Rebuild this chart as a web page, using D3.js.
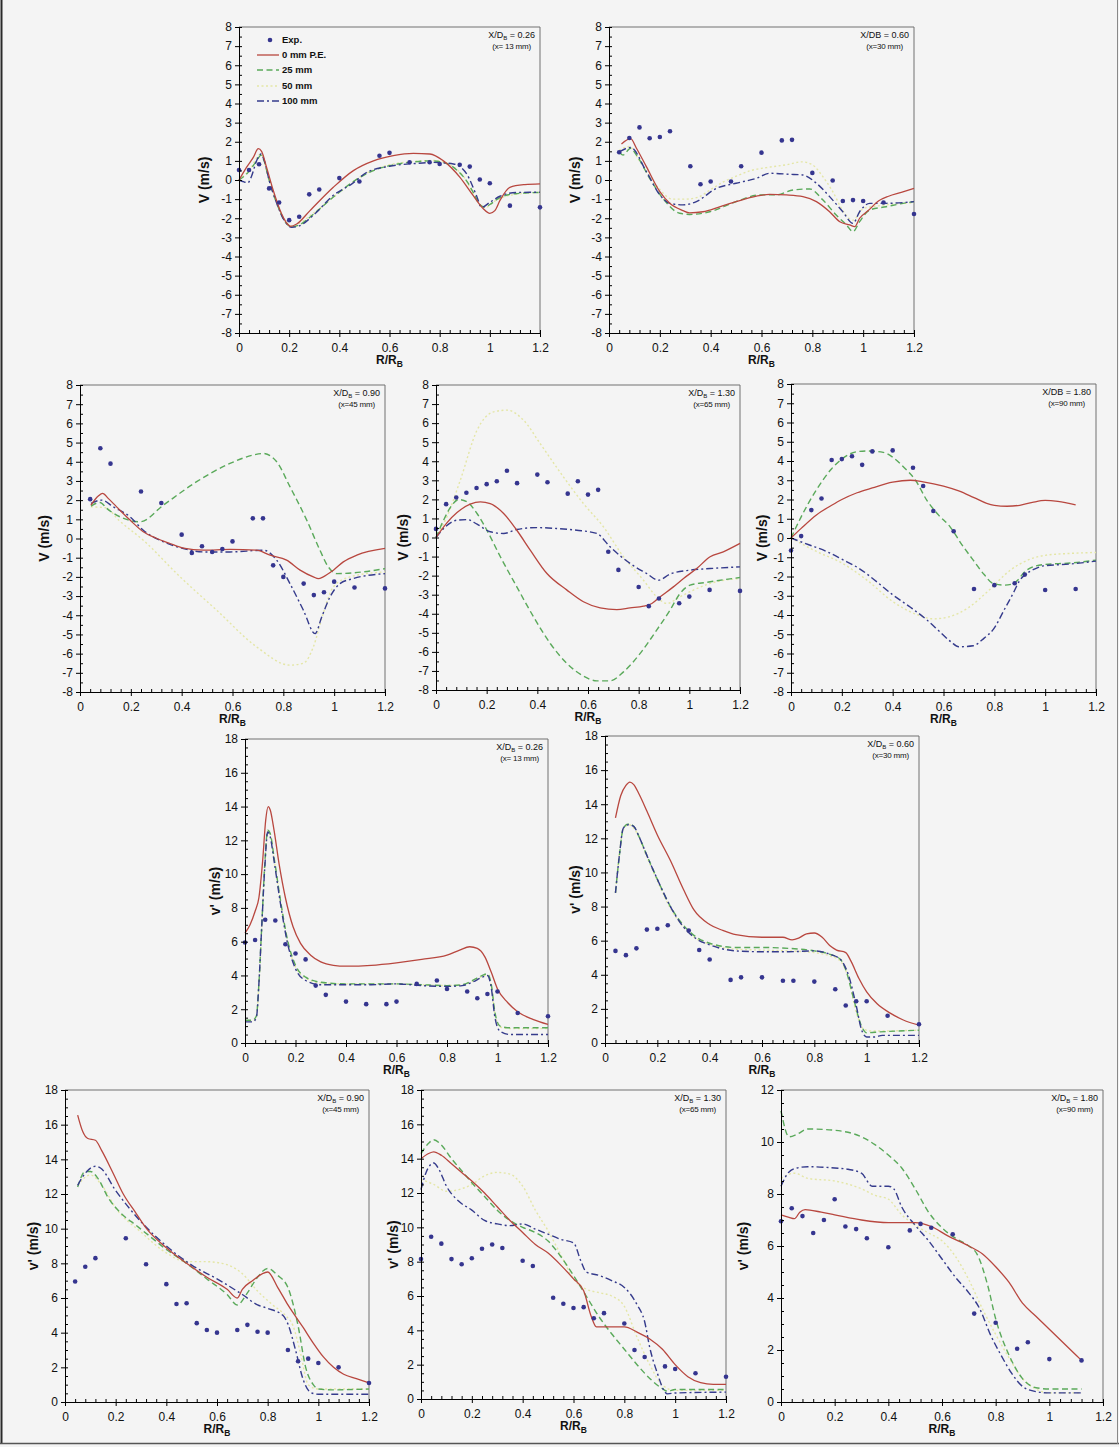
<!DOCTYPE html>
<html>
<head>
<meta charset="utf-8">
<script src="https://cdn.jsdelivr.net/npm/d3@7"></script>
<style>
  html, body { margin: 0; padding: 0; background: #f4f4f4; }
  svg { display: block; font-family: "Liberation Sans", Arial, sans-serif; }
</style>
</head>
<body>
<svg id="fig" width="1119" height="1447"></svg>
<script>
// ---------- tick labels ----------
const rTicks   = [0, 0.2, 0.4, 0.6, 0.8, 1, 1.2];
const vTicks   = [-8, -7, -6, -5, -4, -3, -2, -1, 0, 1, 2, 3, 4, 5, 6, 7, 8];
const vpTicks  = [0, 2, 4, 6, 8, 10, 12, 14, 16, 18];
const vpTicks12 = [0, 2, 4, 6, 8, 10, 12];

// ---------- legend entries ----------
const legendLabels = ["Exp.", "0 mm P.E.", "25 mm", "50 mm", "100 mm"];

// ================= V (mean radial velocity) =================
// X/D_B = 0.26
const exp_V026 = [[0,0.52],[0.04,0.52],[0.08,0.82],[0.12,-0.44],[0.16,-1.18],[0.2,-2.1],[0.24,-1.92],[0.28,-0.75],[0.32,-0.5],[0.4,0.1],[0.48,-0.08],[0.56,1.27],[0.6,1.42],[0.68,0.93],[0.76,0.93],[0.8,0.84],[0.88,0.8],[0.92,0.7],[0.96,0.03],[1.0,-0.17],[1.08,-1.34],[1.2,-1.43]];
const pe0_V026 = [[0,0],[0.03,0.66],[0.057,1.18],[0.077,1.64],[0.09,1.5],[0.11,0.66],[0.137,-0.56],[0.17,-1.78],[0.193,-2.3],[0.206,-2.42],[0.23,-2.3],[0.283,-1.6],[0.376,-0.38],[0.456,0.49],[0.536,1.0],[0.615,1.27],[0.695,1.39],[0.761,1.36],[0.815,1.0],[0.881,0.14],[0.934,-0.82],[0.974,-1.5],[1.0,-1.74],[1.02,-1.6],[1.04,-1.08],[1.08,-0.38],[1.14,-0.24],[1.2,-0.2]];
const pe25_V026 = [[0,0],[0.04,0.45],[0.07,1.0],[0.088,1.3],[0.1,1.0],[0.12,0.0],[0.15,-1.2],[0.18,-2.1],[0.21,-2.45],[0.24,-2.35],[0.3,-1.75],[0.38,-0.85],[0.46,-0.05],[0.52,0.4],[0.6,0.75],[0.68,0.92],[0.76,1.0],[0.82,0.9],[0.87,0.5],[0.91,-0.1],[0.94,-0.8],[0.96,-1.3],[0.98,-1.42],[1.0,-1.28],[1.04,-0.92],[1.1,-0.72],[1.2,-0.65]];
const pe50_V026 = [[0,0],[0.04,0.5],[0.088,1.35],[0.12,0.0],[0.16,-1.5],[0.21,-2.4],[0.3,-1.7],[0.4,-0.65],[0.5,0.3],[0.6,0.8],[0.7,0.97],[0.78,1.02],[0.84,0.8],[0.9,0.1],[0.95,-1.1],[0.98,-1.45],[1.02,-1.1],[1.1,-0.75],[1.2,-0.65]];
const pe100_V026 = [[0,0],[0.02,-0.1],[0.035,-0.15],[0.05,0.2],[0.07,1.0],[0.088,1.36],[0.1,1.05],[0.12,0.0],[0.15,-1.2],[0.18,-2.1],[0.21,-2.47],[0.24,-2.4],[0.3,-1.8],[0.376,-0.8],[0.45,-0.2],[0.51,0.4],[0.6,0.72],[0.7,0.86],[0.775,0.92],[0.855,0.84],[0.908,0.31],[0.947,-0.82],[0.967,-1.43],[1.0,-1.17],[1.04,-0.85],[1.107,-0.65],[1.2,-0.64]];

// X/D_B = 0.60
const exp_V060 = [[0.04,1.45],[0.08,2.2],[0.12,2.75],[0.16,2.18],[0.2,2.25],[0.24,2.55],[0.32,0.72],[0.36,-0.22],[0.4,-0.08],[0.48,-0.08],[0.52,0.72],[0.6,1.43],[0.68,2.07],[0.72,2.1],[0.8,0.37],[0.88,-0.03],[0.92,-1.1],[0.96,-1.05],[1.0,-1.1],[1.08,-1.18],[1.2,-1.78]];
const pe0_V060 = [[0.049,1.88],[0.085,2.16],[0.108,1.66],[0.147,0.7],[0.2,-0.61],[0.239,-1.22],[0.291,-1.6],[0.317,-1.72],[0.37,-1.66],[0.435,-1.4],[0.5,-1.13],[0.58,-0.84],[0.632,-0.75],[0.698,-0.78],[0.763,-0.87],[0.816,-1.13],[0.868,-1.66],[0.908,-2.18],[0.947,-2.35],[0.967,-2.44],[0.986,-2.0],[1.02,-1.6],[1.06,-1.1],[1.1,-0.85],[1.15,-0.65],[1.2,-0.44]];
const pe25_V060 = [[0.042,1.45],[0.055,1.3],[0.085,1.66],[0.108,1.3],[0.16,0.09],[0.212,-0.96],[0.278,-1.74],[0.317,-1.8],[0.396,-1.66],[0.5,-1.13],[0.593,-0.78],[0.658,-0.78],[0.724,-0.52],[0.79,-0.47],[0.842,-1.05],[0.894,-1.83],[0.934,-2.35],[0.96,-2.7],[0.986,-2.18],[1.026,-1.57],[1.09,-1.4],[1.157,-1.22],[1.2,-1.13]];
const pe50_V060 = [[0.04,1.55],[0.08,1.75],[0.12,1.0],[0.16,0.2],[0.2,-0.5],[0.25,-1.0],[0.3,-1.0],[0.35,-0.9],[0.4,-0.5],[0.45,-0.1],[0.5,0.2],[0.56,0.5],[0.62,0.65],[0.7,0.8],[0.76,0.95],[0.8,0.8],[0.84,0.2],[0.88,-0.6],[0.92,-1.6],[0.96,-2.1],[1.0,-1.5],[1.06,-1.35],[1.2,-1.2]];
const pe100_V060 = [[0.042,1.48],[0.085,1.7],[0.147,0.44],[0.2,-0.78],[0.239,-1.22],[0.291,-1.3],[0.344,-1.13],[0.422,-0.44],[0.5,-0.17],[0.58,0.09],[0.632,0.35],[0.71,0.3],[0.763,0.26],[0.816,-0.17],[0.868,-0.87],[0.92,-1.66],[0.96,-2.27],[0.986,-1.66],[1.026,-1.22],[1.09,-1.22],[1.2,-1.13]];

// X/D_B = 0.90
const exp_V090 = [[0.04,2.05],[0.08,4.7],[0.12,3.9],[0.24,2.45],[0.32,1.85],[0.4,0.2],[0.44,-0.75],[0.48,-0.4],[0.52,-0.7],[0.56,-0.55],[0.6,-0.15],[0.68,1.05],[0.72,1.05],[0.76,-1.4],[0.8,-2.0],[0.88,-2.35],[0.92,-2.95],[0.96,-2.8],[1.0,-2.25],[1.08,-2.55],[1.2,-2.6]];
const pe0_V090 = [[0.043,1.74],[0.072,2.21],[0.089,2.35],[0.111,2.09],[0.144,1.65],[0.197,0.96],[0.249,0.35],[0.302,0.0],[0.354,-0.26],[0.407,-0.5],[0.485,-0.61],[0.59,-0.57],[0.695,-0.61],[0.748,-0.87],[0.813,-1.13],[0.866,-1.65],[0.918,-2.0],[0.938,-2.09],[0.957,-2.0],[0.997,-1.65],[1.036,-1.22],[1.089,-0.87],[1.2,-0.52]];
const pe25_V090 = [[0.043,1.69],[0.079,1.88],[0.105,1.57],[0.157,1.13],[0.236,0.87],[0.328,1.74],[0.459,2.96],[0.59,3.91],[0.682,4.35],[0.721,4.43],[0.774,4.0],[0.826,2.7],[0.892,0.96],[0.944,-0.61],[0.977,-1.48],[1.01,-1.83],[1.115,-1.74],[1.2,-1.57]];
const pe50_V090 = [[0.043,1.65],[0.1,1.6],[0.157,0.9],[0.249,-0.09],[0.394,-2.0],[0.538,-3.74],[0.695,-5.65],[0.826,-6.6],[0.879,-6.5],[0.918,-5.65],[0.957,-3.9],[0.997,-2.52],[1.062,-2.0],[1.2,-1.74]];
const pe100_V090 = [[0.043,1.83],[0.085,2.0],[0.131,1.65],[0.197,1.13],[0.249,0.43],[0.328,-0.17],[0.407,-0.52],[0.485,-0.7],[0.59,-0.7],[0.721,-0.61],[0.774,-1.13],[0.826,-2.35],[0.879,-3.74],[0.925,-4.96],[0.951,-4.09],[0.984,-3.04],[1.023,-2.35],[1.075,-2.09],[1.2,-1.83]];

// X/D_B = 1.30
const exp_V130 = [[0,0.45],[0.04,1.75],[0.08,2.1],[0.12,2.35],[0.16,2.6],[0.2,2.8],[0.24,2.95],[0.28,3.5],[0.32,2.85],[0.4,3.3],[0.44,2.9],[0.52,2.3],[0.56,2.95],[0.6,2.25],[0.64,2.5],[0.68,-0.75],[0.72,-1.7],[0.8,-2.6],[0.84,-3.6],[0.88,-3.2],[0.96,-3.45],[1.0,-3.1],[1.08,-2.75],[1.2,-2.8]];
const pe0_V130 = [[0,0],[0.043,0.77],[0.083,1.31],[0.135,1.75],[0.175,1.87],[0.214,1.78],[0.267,1.26],[0.319,0.38],[0.372,-0.66],[0.438,-1.89],[0.517,-2.76],[0.582,-3.37],[0.648,-3.69],[0.714,-3.78],[0.766,-3.69],[0.819,-3.6],[0.852,-3.46],[0.885,-3.11],[0.937,-2.59],[0.977,-2.15],[1.029,-1.63],[1.082,-1.01],[1.134,-0.75],[1.2,-0.31]];
const pe25_V130 = [[0,0],[0.03,0.91],[0.063,1.7],[0.089,1.99],[0.122,1.87],[0.162,1.26],[0.201,0.38],[0.254,-1.01],[0.319,-2.59],[0.385,-4.16],[0.451,-5.56],[0.517,-6.61],[0.582,-7.27],[0.635,-7.52],[0.687,-7.52],[0.74,-7.05],[0.806,-6.08],[0.871,-4.86],[0.924,-3.81],[0.963,-2.94],[1.003,-2.5],[1.069,-2.35],[1.2,-2.1]];
const pe50_V130 = [[0,0],[0.043,1.08],[0.096,3.01],[0.162,5.63],[0.227,6.59],[0.28,6.68],[0.346,6.15],[0.411,4.93],[0.503,3.18],[0.582,1.78],[0.661,0.56],[0.74,-1.01],[0.819,-2.24],[0.871,-3.11],[0.911,-3.46],[0.963,-3.11],[1.016,-2.76],[1.082,-2.41],[1.2,-2.15]];
const pe100_V130 = [[0,0],[0.037,0.56],[0.083,0.91],[0.122,0.94],[0.162,0.7],[0.214,0.3],[0.267,0.21],[0.319,0.42],[0.398,0.52],[0.477,0.47],[0.556,0.38],[0.635,0.21],[0.687,-0.49],[0.766,-1.36],[0.832,-1.89],[0.878,-2.24],[0.924,-1.92],[1.003,-1.71],[1.082,-1.63],[1.2,-1.54]];

// X/D_B = 1.80
const exp_V180 = [[0,-0.65],[0.04,0.1],[0.08,1.45],[0.12,2.05],[0.16,4.05],[0.2,4.1],[0.24,4.25],[0.28,3.8],[0.32,4.5],[0.4,4.55],[0.48,3.65],[0.52,2.7],[0.56,1.4],[0.64,0.35],[0.72,-2.65],[0.8,-2.45],[0.88,-2.35],[0.92,-1.9],[1.0,-2.7],[1.12,-2.65]];
const pe0_V180 = [[0,0],[0.04,0.5],[0.1,1.2],[0.16,1.7],[0.2,2.0],[0.26,2.35],[0.32,2.6],[0.4,2.9],[0.47,3.0],[0.52,2.92],[0.6,2.7],[0.66,2.45],[0.72,2.1],[0.77,1.8],[0.8,1.7],[0.85,1.65],[0.9,1.7],[0.95,1.85],[1.0,1.95],[1.05,1.9],[1.12,1.72]];
const pe25_V180 = [[0,0],[0.04,1.1],[0.1,2.5],[0.16,3.6],[0.2,4.1],[0.258,4.48],[0.3,4.52],[0.363,4.45],[0.4,4.2],[0.442,3.7],[0.49,3.0],[0.534,1.97],[0.58,1.2],[0.626,0.58],[0.67,-0.3],[0.717,-1.15],[0.76,-1.9],[0.796,-2.37],[0.84,-2.45],[0.875,-2.37],[0.927,-1.67],[0.993,-1.38],[1.1,-1.3],[1.2,-1.15]];
const pe50_V180 = [[0,0],[0.1,-0.7],[0.2,-1.3],[0.3,-2.2],[0.4,-3.3],[0.5,-4.0],[0.56,-4.2],[0.62,-4.1],[0.7,-3.6],[0.78,-2.7],[0.86,-1.7],[0.94,-1.1],[1.0,-0.9],[1.1,-0.8],[1.2,-0.75]];
const pe100_V180 = [[0,0],[0.07,-0.35],[0.14,-0.7],[0.2,-1.1],[0.27,-1.6],[0.34,-2.3],[0.4,-2.95],[0.47,-3.6],[0.534,-4.25],[0.58,-4.8],[0.63,-5.4],[0.66,-5.65],[0.717,-5.6],[0.76,-5.2],[0.796,-4.75],[0.84,-3.7],[0.875,-2.85],[0.9,-2.2],[0.927,-1.85],[0.96,-1.6],[0.993,-1.45],[1.1,-1.35],[1.2,-1.2]];

// ================= v' (radial velocity fluctuation) =================
// X/D_B = 0.26
const exp_Vp026 = [[0,5.95],[0.04,6.1],[0.08,7.3],[0.12,7.25],[0.16,5.85],[0.2,5.3],[0.24,4.95],[0.28,3.4],[0.32,2.85],[0.4,2.45],[0.48,2.3],[0.56,2.3],[0.6,2.45],[0.68,3.5],[0.76,3.7],[0.8,3.2],[0.88,3.05],[0.92,2.65],[0.96,2.9],[1.0,3.05],[1.08,1.78],[1.2,1.58]];
const pe0_Vp026 = [[0,6.5],[0.02,7.0],[0.04,7.8],[0.055,8.6],[0.07,10.8],[0.082,13.2],[0.092,14.0],[0.1,13.8],[0.115,12.6],[0.135,10.6],[0.16,8.6],[0.19,6.9],[0.22,5.9],[0.26,5.2],[0.3,4.8],[0.35,4.6],[0.4,4.55],[0.5,4.6],[0.6,4.75],[0.7,4.95],[0.8,5.2],[0.85,5.5],[0.89,5.7],[0.92,5.6],[0.95,5.1],[0.975,4.2],[1.0,3.2],[1.04,2.4],[1.08,1.85],[1.14,1.4],[1.2,1.1]];
const pe25_Vp026 = [[0,1.35],[0.03,1.35],[0.045,1.6],[0.055,3.5],[0.065,6.5],[0.078,10.5],[0.09,12.6],[0.1,12.4],[0.115,11.0],[0.14,8.5],[0.17,6.0],[0.2,4.6],[0.24,3.9],[0.3,3.6],[0.4,3.5],[0.5,3.5],[0.6,3.5],[0.7,3.45],[0.8,3.4],[0.86,3.45],[0.9,3.7],[0.94,4.0],[0.96,4.1],[0.975,3.5],[0.99,1.8],[1.01,1.0],[1.05,0.9],[1.2,0.9]];
const pe50_Vp026 = [[0,1.3],[0.03,1.3],[0.045,1.55],[0.055,3.4],[0.065,6.4],[0.078,10.4],[0.09,12.55],[0.1,12.3],[0.115,10.9],[0.14,8.4],[0.17,5.9],[0.2,4.5],[0.24,3.85],[0.3,3.55],[0.4,3.5],[0.5,3.5],[0.6,3.5],[0.7,3.45],[0.8,3.4],[0.86,3.45],[0.9,3.65],[0.94,3.95],[0.96,4.05],[0.975,3.4],[0.99,1.7],[1.01,0.95],[1.05,0.85],[1.2,0.85]];
const pe100_Vp026 = [[0,1.25],[0.03,1.25],[0.045,1.5],[0.055,3.5],[0.065,6.5],[0.078,10.3],[0.09,12.5],[0.1,12.2],[0.115,10.8],[0.14,8.3],[0.17,5.8],[0.2,4.4],[0.24,3.7],[0.3,3.45],[0.4,3.45],[0.5,3.45],[0.6,3.5],[0.7,3.4],[0.8,3.35],[0.86,3.4],[0.9,3.6],[0.94,3.9],[0.96,4.0],[0.975,3.3],[0.99,1.5],[1.01,0.7],[1.05,0.5],[1.2,0.5]];

// X/D_B = 0.60
const exp_Vp060 = [[0.04,5.4],[0.08,5.15],[0.12,5.55],[0.16,6.65],[0.2,6.7],[0.24,6.9],[0.32,6.6],[0.36,5.45],[0.4,4.9],[0.48,3.7],[0.52,3.85],[0.6,3.85],[0.68,3.65],[0.72,3.65],[0.8,3.6],[0.88,3.15],[0.92,2.2],[0.96,2.45],[1.0,2.45],[1.08,1.6],[1.2,1.1]];
const pe0_Vp060 = [[0.04,13.2],[0.06,14.5],[0.08,15.1],[0.095,15.3],[0.11,15.15],[0.13,14.6],[0.16,13.6],[0.2,12.2],[0.25,10.7],[0.3,9.0],[0.34,7.8],[0.4,6.95],[0.45,6.6],[0.5,6.35],[0.6,6.2],[0.68,6.2],[0.715,6.05],[0.74,6.15],[0.77,6.4],[0.8,6.45],[0.83,6.2],[0.86,5.7],[0.885,5.45],[0.92,5.3],[0.94,4.8],[0.97,3.8],[1.0,3.0],[1.04,2.3],[1.09,1.75],[1.14,1.35],[1.2,1.05]];
const pe25_Vp060 = [[0.04,8.8],[0.055,11.0],[0.07,12.6],[0.09,12.85],[0.11,12.7],[0.13,12.1],[0.16,11.0],[0.2,9.6],[0.25,8.0],[0.3,6.9],[0.35,6.2],[0.4,5.85],[0.5,5.6],[0.6,5.6],[0.7,5.55],[0.8,5.4],[0.86,5.2],[0.9,4.9],[0.92,4.3],[0.95,2.6],[0.98,1.0],[1.0,0.6],[1.05,0.65],[1.2,0.75]];
const pe50_Vp060 = [[0.04,8.8],[0.07,12.5],[0.09,12.8],[0.11,12.6],[0.16,10.9],[0.2,9.5],[0.25,7.9],[0.3,6.8],[0.35,6.1],[0.4,5.8],[0.5,5.5],[0.6,5.45],[0.7,5.4],[0.8,5.3],[0.86,5.1],[0.9,4.8],[0.93,3.8],[0.96,1.8],[0.99,0.8],[1.02,0.7],[1.2,0.75]];
const pe100_Vp060 = [[0.04,8.8],[0.055,11.0],[0.07,12.6],[0.09,12.8],[0.11,12.7],[0.13,12.1],[0.16,11.0],[0.2,9.6],[0.25,8.0],[0.3,6.8],[0.35,6.1],[0.4,5.75],[0.5,5.4],[0.6,5.35],[0.7,5.35],[0.8,5.4],[0.86,5.2],[0.9,4.9],[0.93,4.0],[0.96,2.2],[0.98,0.8],[1.0,0.35],[1.03,0.35],[1.06,0.45],[1.2,0.45]];

// X/D_B = 0.90
const exp_Vp090 = [[0.04,6.95],[0.08,7.8],[0.12,8.3],[0.24,9.45],[0.32,7.95],[0.4,6.8],[0.44,5.65],[0.48,5.7],[0.52,4.55],[0.56,4.15],[0.6,4.0],[0.68,4.15],[0.72,4.45],[0.76,4.05],[0.8,4.0],[0.88,3.0],[0.92,2.35],[0.96,2.5],[1.0,2.25],[1.08,2.0],[1.2,1.1]];
const pe0_Vp090 = [[0.05,16.55],[0.07,15.6],[0.09,15.2],[0.12,15.1],[0.145,14.5],[0.19,13.2],[0.23,12.0],[0.28,10.9],[0.322,10.0],[0.4,8.9],[0.48,8.0],[0.56,7.2],[0.64,6.5],[0.68,6.0],[0.7,6.5],[0.74,7.0],[0.8,7.5],[0.84,6.6],[0.88,5.6],[0.94,4.3],[0.98,3.4],[1.02,2.6],[1.06,2.0],[1.1,1.6],[1.15,1.35],[1.2,1.1]];
const pe25_Vp090 = [[0.05,12.4],[0.08,13.3],[0.1,13.3],[0.13,12.9],[0.17,11.8],[0.22,10.9],[0.28,10.2],[0.34,9.5],[0.4,8.8],[0.48,8.0],[0.56,7.1],[0.64,6.2],[0.68,5.6],[0.72,6.3],[0.76,7.2],[0.8,7.7],[0.84,7.3],[0.88,6.6],[0.92,4.4],[0.95,2.0],[0.98,1.0],[1.0,0.75],[1.05,0.7],[1.2,0.75]];
const pe50_Vp090 = [[0.05,12.5],[0.1,13.1],[0.15,12.4],[0.2,11.2],[0.3,9.8],[0.4,8.6],[0.48,8.1],[0.55,8.1],[0.62,8.0],[0.7,7.4],[0.76,6.4],[0.82,5.6],[0.87,5.0],[0.9,4.4],[0.93,2.8],[0.96,1.0],[1.0,0.75],[1.2,0.75]];
const pe100_Vp090 = [[0.05,12.5],[0.08,13.2],[0.12,13.6],[0.14,13.5],[0.2,12.2],[0.3,10.4],[0.4,9.0],[0.5,7.9],[0.6,7.1],[0.7,6.2],[0.76,5.6],[0.8,5.4],[0.86,5.0],[0.88,4.5],[0.91,3.0],[0.94,1.3],[0.97,0.55],[1.0,0.45],[1.2,0.45]];

// X/D_B = 1.30
const exp_Vp130 = [[0,8.15],[0.04,9.45],[0.08,9.05],[0.12,8.15],[0.16,7.85],[0.2,8.2],[0.24,8.75],[0.28,9.0],[0.32,8.8],[0.4,8.05],[0.44,7.75],[0.52,5.9],[0.56,5.55],[0.6,5.3],[0.64,5.35],[0.68,4.7],[0.72,5.0],[0.8,4.4],[0.84,2.85],[0.88,2.45],[0.96,1.9],[1.0,1.75],[1.08,1.5],[1.2,1.3]];
const pe0_Vp130 = [[0,14.0],[0.03,14.3],[0.05,14.4],[0.08,14.2],[0.12,13.7],[0.16,13.2],[0.2,12.7],[0.25,12.0],[0.3,11.2],[0.35,10.4],[0.4,9.7],[0.45,9.0],[0.5,8.5],[0.55,7.8],[0.6,7.0],[0.64,6.3],[0.67,4.8],[0.69,4.2],[0.75,4.2],[0.8,4.2],[0.85,3.9],[0.9,3.5],[0.95,2.9],[1.0,2.0],[1.05,1.3],[1.1,0.95],[1.15,0.85],[1.2,0.85]];
const pe25_Vp130 = [[0,14.3],[0.03,14.9],[0.05,15.1],[0.08,14.8],[0.12,14.0],[0.16,13.3],[0.2,12.6],[0.25,11.8],[0.3,11.0],[0.35,10.4],[0.4,10.0],[0.45,9.7],[0.5,9.2],[0.55,8.3],[0.6,7.2],[0.65,6.0],[0.7,4.8],[0.75,3.8],[0.8,2.9],[0.85,2.0],[0.9,1.2],[0.95,0.6],[0.97,0.45],[1.0,0.55],[1.2,0.55]];
const pe50_Vp130 = [[0,12.8],[0.05,12.5],[0.1,12.1],[0.15,12.2],[0.2,12.5],[0.25,13.0],[0.3,13.2],[0.35,13.1],[0.4,12.4],[0.45,11.0],[0.5,9.8],[0.55,8.4],[0.6,7.0],[0.65,6.4],[0.7,6.2],[0.75,6.0],[0.8,5.4],[0.85,3.6],[0.9,2.0],[0.95,0.8],[1.0,0.5],[1.2,0.5]];
const pe100_Vp130 = [[0,12.2],[0.02,13.2],[0.05,13.75],[0.07,13.4],[0.1,12.4],[0.15,11.5],[0.2,11.0],[0.25,10.4],[0.3,10.2],[0.35,10.1],[0.4,10.2],[0.45,9.9],[0.5,9.6],[0.55,9.3],[0.6,9.1],[0.63,8.0],[0.65,7.4],[0.7,7.2],[0.75,6.9],[0.8,6.5],[0.85,5.5],[0.88,4.5],[0.9,3.0],[0.93,1.5],[0.96,0.4],[0.97,0.3],[1.0,0.35],[1.2,0.4]];

// X/D_B = 1.80
const exp_Vp180 = [[0,6.95],[0.04,7.45],[0.08,7.15],[0.12,6.5],[0.16,7.0],[0.2,7.8],[0.24,6.75],[0.28,6.65],[0.32,6.3],[0.4,5.95],[0.48,6.6],[0.52,6.85],[0.56,6.7],[0.64,6.45],[0.72,3.4],[0.8,3.05],[0.88,2.05],[0.92,2.3],[1.0,1.65],[1.12,1.6]];
const pe0_Vp180 = [[0,7.2],[0.03,7.1],[0.05,7.05],[0.07,7.3],[0.09,7.4],[0.15,7.3],[0.2,7.2],[0.3,7.0],[0.4,6.9],[0.5,6.9],[0.56,6.75],[0.62,6.4],[0.7,6.0],[0.75,5.7],[0.8,5.2],[0.85,4.6],[0.9,3.8],[0.95,3.3],[1.0,2.8],[1.05,2.3],[1.1,1.8],[1.12,1.6]];
const pe25_Vp180 = [[0,11.2],[0.03,10.2],[0.06,10.3],[0.1,10.5],[0.2,10.45],[0.3,10.2],[0.35,9.9],[0.4,9.5],[0.45,9.0],[0.5,8.2],[0.55,7.3],[0.6,6.7],[0.65,6.3],[0.7,6.0],[0.73,5.7],[0.77,4.5],[0.8,3.2],[0.85,1.8],[0.9,0.9],[0.95,0.55],[1.0,0.5],[1.12,0.5]];
const pe50_Vp180 = [[0,8.6],[0.05,8.8],[0.1,8.6],[0.2,8.5],[0.3,8.2],[0.35,7.95],[0.4,7.8],[0.45,7.2],[0.5,6.8],[0.55,6.5],[0.6,6.2],[0.65,5.6],[0.7,4.7],[0.75,3.6],[0.8,2.6],[0.85,1.7],[0.9,0.9],[0.95,0.5],[1.0,0.35],[1.12,0.35]];
const pe100_Vp180 = [[0,8.3],[0.03,8.85],[0.06,9.0],[0.1,9.05],[0.2,9.0],[0.25,8.95],[0.3,8.8],[0.34,8.3],[0.4,8.3],[0.42,8.2],[0.45,7.5],[0.5,6.8],[0.55,6.2],[0.6,5.5],[0.65,4.8],[0.7,4.2],[0.74,3.6],[0.78,2.6],[0.82,1.8],[0.86,1.1],[0.9,0.6],[0.95,0.4],[1.0,0.35],[1.12,0.35]];

// ---------- panel layout ----------
const panels = [
  { box:[239,27,540,333],  yDomain:[-8,8], yTicks:vTicks, yMinor:0.5, ytitle:"V (m/s)",  yOff:35, station:"0.26", subB:true,  loc:"(x= 13 mm)", legend:true,
    exp:exp_V026, pe0:pe0_V026, pe25:pe25_V026, pe50:pe50_V026, pe100:pe100_V026 },
  { box:[609,27,914,333],  yDomain:[-8,8], yTicks:vTicks, yMinor:0.5, ytitle:"V (m/s)",  yOff:34, station:"0.60", subB:false, loc:"(x=30 mm)",
    exp:exp_V060, pe0:pe0_V060, pe25:pe25_V060, pe50:pe50_V060, pe100:pe100_V060 },
  { box:[80,385,385,692],  yDomain:[-8,8], yTicks:vTicks, yMinor:0.5, ytitle:"V (m/s)",  yOff:36, station:"0.90", subB:true,  loc:"(x=45 mm)",
    exp:exp_V090, pe0:pe0_V090, pe25:pe25_V090, pe50:pe50_V090, pe100:pe100_V090 },
  { box:[436,385,740,690], yDomain:[-8,8], yTicks:vTicks, yMinor:0.5, ytitle:"V (m/s)",  yOff:33, station:"1.30", subB:true,  loc:"(x=65 mm)",
    exp:exp_V130, pe0:pe0_V130, pe25:pe25_V130, pe50:pe50_V130, pe100:pe100_V130 },
  { box:[791,384,1096,692],yDomain:[-8,8], yTicks:vTicks, yMinor:0.5, ytitle:"V (m/s)",  yOff:29, station:"1.80", subB:false, loc:"(x=90 mm)",
    exp:exp_V180, pe0:pe0_V180, pe25:pe25_V180, pe50:pe50_V180, pe100:pe100_V180 },
  { box:[245,739,548,1043],yDomain:[0,18], yTicks:vpTicks, yMinor:0.5, ytitle:"v' (m/s)", yOff:30, station:"0.26", subB:true,  loc:"(x= 13 mm)",
    exp:exp_Vp026, pe0:pe0_Vp026, pe25:pe25_Vp026, pe50:pe50_Vp026, pe100:pe100_Vp026 },
  { box:[605,736,919,1043],yDomain:[0,18], yTicks:vpTicks, yMinor:0.5, ytitle:"v' (m/s)", yOff:30, station:"0.60", subB:true,  loc:"(x=30 mm)",
    exp:exp_Vp060, pe0:pe0_Vp060, pe25:pe25_Vp060, pe50:pe50_Vp060, pe100:pe100_Vp060 },
  { box:[65,1090,369,1402],yDomain:[0,18], yTicks:vpTicks, yMinor:0.5, ytitle:"v' (m/s)", yOff:32, station:"0.90", subB:true,  loc:"(x=45 mm)",
    exp:exp_Vp090, pe0:pe0_Vp090, pe25:pe25_Vp090, pe50:pe50_Vp090, pe100:pe100_Vp090 },
  { box:[421,1090,726,1399],yDomain:[0,18], yTicks:vpTicks, yMinor:0.5, ytitle:"v' (m/s)", yOff:28, station:"1.30", subB:true,  loc:"(x=65 mm)",
    exp:exp_Vp130, pe0:pe0_Vp130, pe25:pe25_Vp130, pe50:pe50_Vp130, pe100:pe100_Vp130 },
  { box:[781,1090,1103,1402],yDomain:[0,12], yTicks:vpTicks12, yMinor:0.5, ytitle:"v' (m/s)", yOff:38, station:"1.80", subB:true,  loc:"(x=90 mm)",
    exp:exp_Vp180, pe0:pe0_Vp180, pe25:pe25_Vp180, pe50:pe50_Vp180, pe100:pe100_Vp180 }
];

// ---------- line styles ----------
const seriesStyle = {
  pe50:  { stroke:"#e4e6a6", width:1.4, dash:"2,2.5" },
  pe25:  { stroke:"#5aa95a", width:1.4, dash:"6,3.5" },
  pe100: { stroke:"#353b8c", width:1.4, dash:"7,3,2,3" },
  pe0:   { stroke:"#b8473f", width:1.3, dash:null }
};
const drawOrder = ["pe50", "pe25", "pe100", "pe0"];
const dotColor = "#35358f";
const FONT = '"Liberation Sans", Arial, sans-serif';

const svg = d3.select("#fig");
svg.append("rect").attr("width", 1119).attr("height", 1447).attr("fill", "#f4f4f4");

const fmt = d => String(+d.toFixed(2));

function drawPanel(p) {
  const [x0, y0, x1, y1] = p.box;
  const x = d3.scaleLinear().domain([0, 1.2]).range([x0, x1]);
  const y = d3.scaleLinear().domain(p.yDomain).range([y1, y0]);
  const g = svg.append("g");

  // plot frame (top and right edges)
  g.append("path")
    .attr("d", `M${x0},${y0}H${x1}V${y1}`)
    .attr("fill", "none").attr("stroke", "#707070").attr("stroke-width", 1);

  // model curves
  const line = d3.line().x(d => x(d[0])).y(d => y(d[1])).curve(d3.curveMonotoneX);
  drawOrder.forEach(k => {
    const s = seriesStyle[k];
    g.append("path")
      .datum(p[k])
      .attr("d", line)
      .attr("fill", "none")
      .attr("stroke", s.stroke)
      .attr("stroke-width", s.width)
      .attr("stroke-dasharray", s.dash)
      .attr("stroke-linejoin", "round");
  });

  // experimental points
  g.append("g").selectAll("circle").data(p.exp).join("circle")
    .attr("cx", d => x(d[0])).attr("cy", d => y(d[1])).attr("r", 2.3)
    .attr("fill", dotColor);

  // x axis: labelled major ticks + minor ticks inside
  const xMinor = d3.range(0, 1.2001, 0.04);
  const gx = g.append("g").attr("transform", `translate(0,${y1})`)
    .call(d3.axisBottom(x).tickValues(rTicks).tickFormat(fmt).tickSize(4).tickSizeOuter(0).tickPadding(6));
  g.append("g").attr("transform", `translate(0,${y1})`)
    .call(d3.axisBottom(x).tickValues(xMinor).tickFormat("").tickSize(-3).tickSizeOuter(0))
    .call(a => a.select(".domain").remove());

  // y axis
  const [ymin, ymax] = p.yDomain;
  const yMinor = d3.range(ymin, ymax + 0.001, p.yMinor);
  const gy = g.append("g").attr("transform", `translate(${x0},0)`)
    .call(d3.axisLeft(y).tickValues(p.yTicks).tickFormat(fmt).tickSize(4).tickSizeOuter(0).tickPadding(3));
  g.append("g").attr("transform", `translate(${x0},0)`)
    .call(d3.axisLeft(y).tickValues(yMinor).tickFormat("").tickSize(-3).tickSizeOuter(0))
    .call(a => a.select(".domain").remove());

  g.selectAll(".tick line, .domain").attr("stroke", "#000").attr("stroke-width", 1);
  [gx, gy].forEach(a => a.attr("font-family", FONT).attr("font-size", 12)
    .selectAll("text").attr("fill", "#111"));

  // axis titles
  g.append("text")
    .attr("transform", `translate(${x0 - p.yOff},${(y0 + y1) / 2}) rotate(-90)`)
    .attr("text-anchor", "middle").attr("dy", "0.35em")
    .attr("font-family", FONT).attr("font-size", 14).attr("font-weight", "bold")
    .attr("fill", "#111").text(p.ytitle);

  const xt = g.append("text")
    .attr("x", (x0 + x1) / 2).attr("y", y1 + 31)
    .attr("text-anchor", "middle")
    .attr("font-family", FONT).attr("font-size", 12).attr("font-weight", "bold").attr("fill", "#111");
  xt.append("tspan").text("R/R");
  xt.append("tspan").attr("font-size", 8.5).attr("dy", 3).text("B");

  // station annotation
  const st = g.append("text")
    .attr("x", x1 - 5).attr("y", y0 + 11)
    .attr("text-anchor", "end")
    .attr("font-family", FONT).attr("font-size", 9).attr("fill", "#111");
  if (p.subB) {
    st.append("tspan").text("X/D");
    st.append("tspan").attr("font-size", 6).attr("dy", 2).text("B");
    st.append("tspan").attr("dy", -2).text(" = " + p.station);
  } else {
    st.append("tspan").text("X/DB = " + p.station);
  }
  const bb = st.node().getBBox();
  g.append("text")
    .attr("x", bb.x + bb.width / 2).attr("y", y0 + 22)
    .attr("text-anchor", "middle")
    .attr("font-family", FONT).attr("font-size", 8).attr("letter-spacing", -0.2)
    .attr("fill", "#111").text(p.loc);

  if (p.legend) drawLegend(g, x0, y0);
}

function drawLegend(g, x0, y0) {
  const rows = [40, 55, 70, 86, 101];
  const lx0 = 257, lx1 = 279, tx = 282;
  const keys = ["exp", "pe0", "pe25", "pe50", "pe100"];
  keys.forEach((k, i) => {
    const yy = rows[i];
    if (k === "exp") {
      g.append("circle").attr("cx", 270).attr("cy", yy).attr("r", 2.3).attr("fill", dotColor);
    } else {
      const s = seriesStyle[k];
      g.append("line").attr("x1", lx0).attr("x2", lx1).attr("y1", yy).attr("y2", yy)
        .attr("stroke", s.stroke).attr("stroke-width", s.width).attr("stroke-dasharray", s.dash);
    }
    g.append("text").attr("x", tx).attr("y", yy).attr("dy", "0.35em")
      .attr("font-family", FONT).attr("font-size", 9.5).attr("font-weight", "bold")
      .attr("fill", "#111").text(legendLabels[i]);
  });
}

panels.forEach(drawPanel);

// page edges
svg.append("line").attr("x1", 1.5).attr("x2", 1.5).attr("y1", 0).attr("y2", 1444)
  .attr("stroke", "#2a2a2a").attr("stroke-width", 2);
svg.append("line").attr("x1", 0).attr("x2", 1119).attr("y1", 1443.5).attr("y2", 1443.5)
  .attr("stroke", "#555").attr("stroke-width", 1.5);
svg.append("line").attr("x1", 1117.5).attr("x2", 1117.5).attr("y1", 0).attr("y2", 1444)
  .attr("stroke", "#888").attr("stroke-width", 1);
</script>
</body>
</html>
